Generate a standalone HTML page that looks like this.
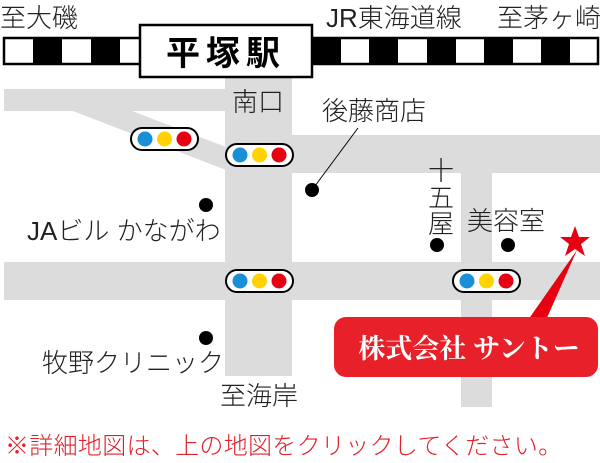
<!DOCTYPE html>
<html><head><meta charset="utf-8"><style>
html,body{margin:0;padding:0;background:#fff;}
svg{display:block;}
text{font-family:"Liberation Sans","Noto Sans CJK JP",sans-serif;}
.l{font-weight:300;}
</style></head><body>
<svg width="600" height="463" viewBox="0 0 600 463" xmlns="http://www.w3.org/2000/svg">
<g fill="#dcdcdc">
<rect x="4" y="89" width="222" height="22"/>
<polygon points="73,111 132,111 226,147 226,170"/>
<rect x="225" y="70" width="67" height="306"/>
<rect x="292" y="135" width="308" height="38"/>
<rect x="461" y="173" width="31" height="234"/>
<rect x="4" y="262" width="596" height="38"/>
</g>
<rect x="4" y="38" width="594" height="26" fill="#fff" stroke="#000" stroke-width="2.5"/>
<g fill="#000">
<rect x="33" y="38" width="29" height="26"/><rect x="91" y="38" width="29" height="26"/>
<rect x="312" y="38" width="29" height="26"/><rect x="369" y="38" width="29" height="26"/>
<rect x="427" y="38" width="29" height="26"/><rect x="484" y="38" width="29" height="26"/>
<rect x="541" y="38" width="29" height="26"/>
</g>
<rect x="140" y="25" width="172" height="52" fill="#fff" stroke="#000" stroke-width="2.5"/>
<text x="226" y="65" font-size="34" font-weight="bold" text-anchor="middle" letter-spacing="6">平塚駅</text>
<g font-size="26" fill="#222" class="l">
<text x="0" y="27">至大磯</text>
<text x="326" y="27">JR東海道線</text>
<text x="497" y="27">至茅ヶ崎</text>
<text x="232" y="111">南口</text>
<text x="322" y="120">後藤商店</text>
<text x="428" y="180">十</text>
<text x="428" y="207">五</text>
<text x="428" y="233">屋</text>
<text x="467" y="230">美容室</text>
<text x="27" y="240">JAビル かながわ</text>
<text x="42" y="372">牧野クリニック</text>
<text x="220" y="405">至海岸</text>
</g>
<line x1="312" y1="190" x2="358" y2="128" stroke="#000" stroke-width="1"/>
<g fill="#000">
<circle cx="312" cy="190" r="7"/><circle cx="206" cy="205" r="7"/>
<circle cx="206" cy="338" r="7"/><circle cx="437" cy="245" r="7"/><circle cx="508" cy="245" r="7"/>
</g>
<g id="s">
<rect x="131" y="128" width="67" height="22" rx="11" fill="#fff" stroke="#000" stroke-width="2"/>
<circle cx="145" cy="139" r="7.5" fill="#1a8fd8"/><circle cx="164.5" cy="139" r="7.5" fill="#ffd200"/><circle cx="184" cy="139" r="7.5" fill="#e60012"/>
</g>
<use href="#s" transform="translate(95,16)"/>
<use href="#s" transform="translate(95,142)"/>
<use href="#s" transform="translate(322,142)"/>
<polygon points="528,320 546,320 577,250" fill="#e60012"/>
<polygon points="575,226 579,237 590,237 581,244 585,256 575,249 565,256 569,244 560,237 571,237" fill="#e60012"/>
<rect x="334" y="317" width="264" height="60" rx="12" fill="#e8202a"/>
<text x="469" y="358" font-size="27" font-weight="bold" fill="#fff" text-anchor="middle" style='font-family:"Liberation Serif","Noto Serif CJK SC",serif'>株式会社 サントー</text>
<text x="5" y="454" font-size="24" fill="#e0202a" class="l" letter-spacing="0.3">※詳細地図は、上の地図をクリックしてください。</text>
</svg>
</body></html>
